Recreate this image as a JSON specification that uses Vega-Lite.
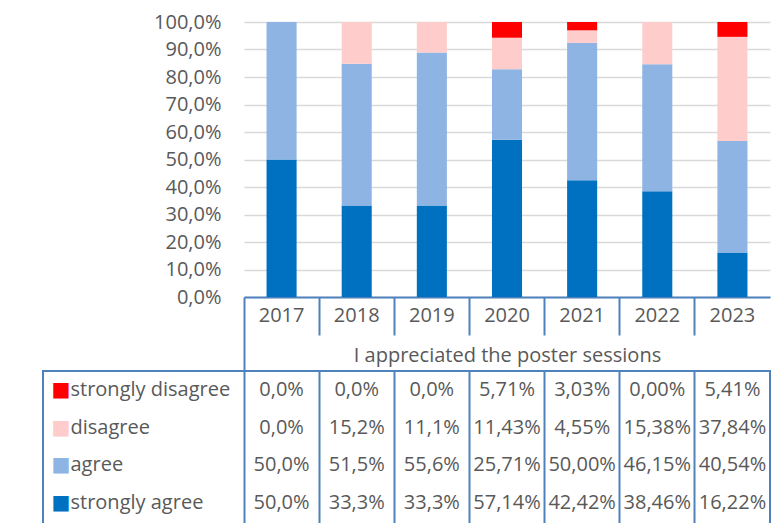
{
  "$schema": "https://vega.github.io/schema/vega-lite/v6.json",
  "autosize": {"type": "pad"},
  "padding": {"left": 42, "top": 12, "right": 0, "bottom": 0},
  "background": "white",
  "config": {
    "locale": {"number": {"decimal": ",", "thousands": ".", "grouping": [3], "currency": ["", " €"]}},
    "font": "Open Sans",
    "view": {"stroke": null}
  },
  "data": {
    "values": [
      {"year": 2017, "resp": "strongly agree", "k": 1, "v": 0.5},
      {"year": 2017, "resp": "agree", "k": 2, "v": 0.5},
      {"year": 2017, "resp": "disagree", "k": 3, "v": 0},
      {"year": 2017, "resp": "strongly disagree", "k": 4, "v": 0},
      {"year": 2018, "resp": "strongly agree", "k": 1, "v": 0.333},
      {"year": 2018, "resp": "agree", "k": 2, "v": 0.515},
      {"year": 2018, "resp": "disagree", "k": 3, "v": 0.152},
      {"year": 2018, "resp": "strongly disagree", "k": 4, "v": 0},
      {"year": 2019, "resp": "strongly agree", "k": 1, "v": 0.333},
      {"year": 2019, "resp": "agree", "k": 2, "v": 0.556},
      {"year": 2019, "resp": "disagree", "k": 3, "v": 0.111},
      {"year": 2019, "resp": "strongly disagree", "k": 4, "v": 0},
      {"year": 2020, "resp": "strongly agree", "k": 1, "v": 0.5714},
      {"year": 2020, "resp": "agree", "k": 2, "v": 0.2571},
      {"year": 2020, "resp": "disagree", "k": 3, "v": 0.1143},
      {"year": 2020, "resp": "strongly disagree", "k": 4, "v": 0.0571},
      {"year": 2021, "resp": "strongly agree", "k": 1, "v": 0.4242},
      {"year": 2021, "resp": "agree", "k": 2, "v": 0.5},
      {"year": 2021, "resp": "disagree", "k": 3, "v": 0.0455},
      {"year": 2021, "resp": "strongly disagree", "k": 4, "v": 0.0303},
      {"year": 2022, "resp": "strongly agree", "k": 1, "v": 0.3846},
      {"year": 2022, "resp": "agree", "k": 2, "v": 0.4615},
      {"year": 2022, "resp": "disagree", "k": 3, "v": 0.1538},
      {"year": 2022, "resp": "strongly disagree", "k": 4, "v": 0},
      {"year": 2023, "resp": "strongly agree", "k": 1, "v": 0.1622},
      {"year": 2023, "resp": "agree", "k": 2, "v": 0.4054},
      {"year": 2023, "resp": "disagree", "k": 3, "v": 0.3784},
      {"year": 2023, "resp": "strongly disagree", "k": 4, "v": 0.0541}
    ]
  },
  "spacing": -2,
  "vconcat": [
    {
      "width": 727,
      "height": 275,
      "mark": {"type": "bar", "width": {"band": 0.4}},
      "encoding": {
        "x": {
          "field": "year",
          "type": "ordinal",
          "scale": {"type": "band", "range": [201, 727], "paddingInner": 0, "paddingOuter": 0},
          "axis": {
            "title": "I appreciated the poster sessions",
            "bandPosition": 0,
            "labelAngle": 0,
            "domainColor": "#4F81BD",
            "domainWidth": 2,
            "tickColor": "#4F81BD",
            "tickWidth": 2,
            "tickSize": {"condition": {"test": "datum.value == 2017", "value": 73}, "value": 38},
            "labelPadding": {"condition": {"test": "datum.value == 2017", "value": -49}, "value": -14},
            "labelBaseline": "alphabetic",
            "labelFontSize": 20,
            "labelColor": "#595959",
            "titleFontSize": 20,
            "titleFontWeight": "normal",
            "titleColor": "#595959",
            "titleBaseline": "alphabetic",
            "titlePadding": -10
          }
        },
        "y": {
          "field": "v",
          "type": "quantitative",
          "scale": {"domain": [0, 1]},
          "axis": {
            "title": null,
            "offset": -201,
            "values": [0, 0.1, 0.2, 0.3, 0.4, 0.5, 0.6, 0.7, 0.8, 0.9, 1],
            "format": ".1%",
            "domain": false,
            "ticks": false,
            "labelPadding": 23,
            "labelFontSize": 20,
            "labelColor": "#595959",
            "gridColor": "#D9D9D9",
            "gridWidth": 1.5
          }
        },
        "color": {
          "field": "resp",
          "type": "nominal",
          "scale": {
            "domain": ["strongly agree", "agree", "disagree", "strongly disagree"],
            "range": ["#0070C0", "#8EB4E3", "#FFCCCC", "#FF0000"]
          },
          "legend": null
        },
        "order": {"field": "k", "type": "quantitative"}
      }
    },
    {
      "width": 727,
      "height": 160,
      "view": {"stroke": "#4F81BD", "strokeWidth": 2},
      "layer": [
        {
          "mark": {"type": "text", "fontSize": 20, "color": "#595959", "baseline": "middle"},
          "encoding": {
            "x": {
              "field": "year",
              "type": "ordinal",
              "scale": {"type": "band", "range": [201, 727], "paddingInner": 0, "paddingOuter": 0},
              "axis": {
                "orient": "top",
                "title": null,
                "labels": false,
                "ticks": true,
                "domain": false,
                "grid": false,
                "bandPosition": 0,
                "tickSize": -160,
                "tickColor": "#4F81BD",
                "tickWidth": 2
              }
            },
            "y": {
              "field": "resp",
              "type": "nominal",
              "sort": ["strongly disagree", "disagree", "agree", "strongly agree"],
              "scale": {"type": "band", "range": [0, 151], "paddingInner": 0, "paddingOuter": 0},
              "axis": {
                "orient": "left",
                "title": null,
                "domain": false,
                "ticks": false,
                "labelAlign": "left",
                "labelPadding": -27,
                "labelFontSize": 20,
                "labelColor": "#595959",
                "maxExtent": 0
              }
            },
            "text": {
              "condition": {"test": "datum.year < 2020", "field": "v", "type": "quantitative", "format": ".1%"},
              "field": "v",
              "type": "quantitative",
              "format": ".2%"
            }
          }
        },
        {
          "mark": {"type": "text", "text": ""},
          "encoding": {
            "y": {
              "field": "resp",
              "type": "nominal",
              "sort": ["strongly disagree", "disagree", "agree", "strongly agree"],
              "axis": {
                "orient": "left",
                "title": null,
                "domain": false,
                "ticks": false,
                "labelExpr": "'■'",
                "labelAlign": "left",
                "labelPadding": -8,
                "labelFont": "DejaVu Sans",
                "labelFontSize": 20,
                "labelColor": {
                  "condition": [
                    {"test": "datum.value == 'strongly disagree'", "value": "#FF0000"},
                    {"test": "datum.value == 'disagree'", "value": "#FFCCCC"},
                    {"test": "datum.value == 'agree'", "value": "#8EB4E3"}
                  ],
                  "value": "#0070C0"
                },
                "maxExtent": 0
              }
            }
          }
        }
      ],
      "resolve": {"axis": {"y": "independent"}}
    }
  ]
}
